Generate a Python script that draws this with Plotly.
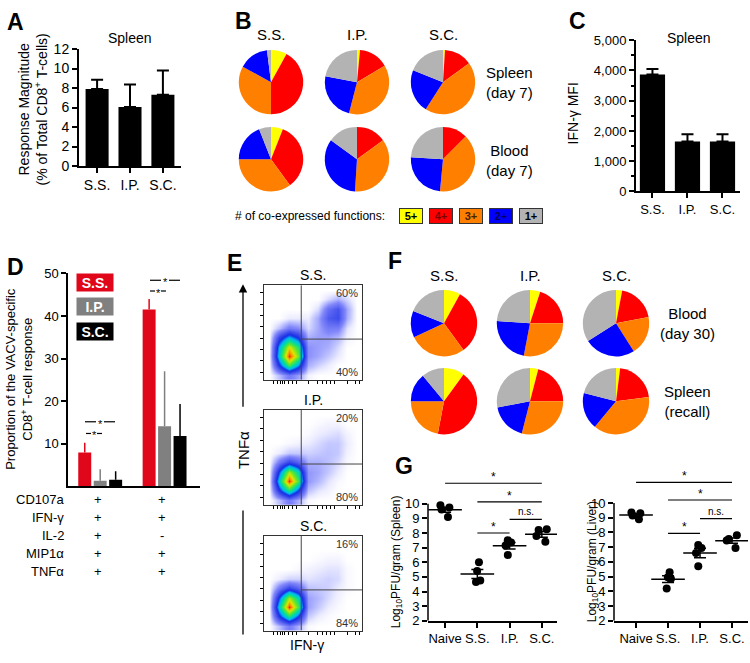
import numpy as np
import plotly.graph_objects as go

W, H = 750, 663
FONT = "Liberation Sans, Arial, sans-serif"

# ---------------- data ----------------
routes = ["S.S.", "I.P.", "S.C."]

# Panel A: response magnitude (% of CD8+ T cells)
A_mean = [7.9, 6.05, 7.3]
A_err = [0.95, 2.3, 2.5]

# Panel C: IFN-g MFI
C_mean = [3870, 1650, 1650]
C_err = [180, 240, 240]

# Panel D: proportions
D_groups = ["g1", "g2"]
D_SS = [7.9, 41.5]
D_SS_err = [2.3, 2.5]
D_IP = [1.3, 14.1]
D_IP_err = [2.7, 12.9]
D_SC = [1.5, 11.8]
D_SC_err = [2.0, 7.5]
D_markers = ["CD107a", "IFN-γ", "IL-2", "MIP1α", "TNFα"]
D_g1_signs = ["+", "+", "+", "+", "+"]
D_g2_signs = ["+", "+", "-", "+", "+"]

# Pies: fractions of 5+, 4+, 3+, 2+, 1+
func_labels = ["5+", "4+", "3+", "2+", "1+"]
B_spleen_SS = [8, 42, 33, 15, 2]
B_spleen_IP = [1.5, 15, 37.5, 24, 22]
B_spleen_SC = [1, 14, 44, 22, 19]
B_blood_SS = [6, 34, 35, 19, 6]
B_blood_IP = [0, 15, 36, 34, 15]
B_blood_SC = [0, 12.5, 39, 24.5, 24]
F_blood_SS = [8, 32, 28, 13, 19]
F_blood_IP = [5, 20, 28, 23, 24]
F_blood_SC = [3, 19, 19, 25, 34]
F_spleen_SS = [10, 43, 22, 14, 11]
F_spleen_IP = [4, 21, 29, 18, 28]
F_spleen_SC = [2, 21, 38, 18, 21]

# Panel E: flow density grids (rows bottom->top, cols left->right)
flow_bins = [0.05, 0.15, 0.25, 0.35, 0.45, 0.55, 0.65, 0.75, 0.85, 0.95]
E_SS = [
    [0, 0.8, 1.8, 1.2, 0.2, 0, 0, 0, 0, 0],
    [0, 3.8, 7, 4.8, 1, 0.6, 0.3, 0, 0, 0],
    [0, 5.5, 10, 7.5, 1.4, 1.1, 0.7, 0.3, 0, 0],
    [0, 5, 8.5, 6.5, 1.4, 1.2, 1, 0.5, 0, 0],
    [0, 3.2, 5, 3.8, 1, 1.2, 1.2, 0.9, 0.2, 0],
    [0, 0.8, 1.8, 1.5, 0.5, 1.1, 1.8, 1.7, 0.4, 0],
    [0, 0, 0.3, 0.3, 0.3, 1.1, 2.6, 3, 1, 0],
    [0, 0, 0, 0, 0, 0.5, 2.1, 2.8, 1.1, 0],
    [0, 0, 0, 0, 0, 0, 0.5, 1, 0.5, 0],
    [0, 0, 0, 0, 0, 0, 0, 0, 0, 0],
]
E_IP = [
    [0, 0.8, 1.8, 1, 0.1, 0, 0, 0, 0, 0],
    [0, 3.8, 6.5, 4.2, 0.8, 0.4, 0.2, 0, 0, 0],
    [0, 5.5, 10, 7, 1.3, 0.9, 0.4, 0.1, 0, 0],
    [0, 4.2, 8, 5.8, 1.3, 1.1, 0.7, 0.3, 0, 0],
    [0, 1.8, 3.2, 2.4, 1, 1, 0.8, 0.5, 0.1, 0],
    [0, 0.3, 0.7, 0.7, 0.6, 0.7, 0.8, 0.7, 0.2, 0],
    [0, 0, 0.1, 0.2, 0.3, 0.5, 0.7, 0.7, 0.3, 0],
    [0, 0, 0, 0, 0.1, 0.3, 0.4, 0.5, 0.2, 0],
    [0, 0, 0, 0, 0, 0.1, 0.2, 0.2, 0, 0],
    [0, 0, 0, 0, 0, 0, 0, 0, 0, 0],
]
E_SC = [
    [0, 0.8, 1.8, 1, 0.1, 0, 0, 0, 0, 0],
    [0, 3.8, 6.5, 4.2, 0.7, 0.3, 0.1, 0, 0, 0],
    [0, 5.5, 10, 7, 1.2, 0.7, 0.3, 0.1, 0, 0],
    [0, 4.2, 8, 5.8, 1.2, 0.9, 0.5, 0.2, 0, 0],
    [0, 1.8, 3.2, 2.4, 0.8, 0.7, 0.6, 0.3, 0.1, 0],
    [0, 0.3, 0.6, 0.6, 0.4, 0.5, 0.6, 0.5, 0.1, 0],
    [0, 0, 0, 0.1, 0.2, 0.3, 0.4, 0.4, 0.1, 0],
    [0, 0, 0, 0, 0, 0.1, 0.2, 0.2, 0, 0],
    [0, 0, 0, 0, 0, 0, 0, 0, 0, 0],
    [0, 0, 0, 0, 0, 0, 0, 0, 0, 0],
]
E_pct_top = ["60%", "20%", "16%"]
E_pct_bot = ["40%", "80%", "84%"]

# Panel G: log10 PFU/gram
G_groups = ["Naive", "S.S.", "I.P.", "S.C."]
G_spleen = {
    "Naive": [9.9, 9.75, 9.6, 9.1],
    "S.S.": [6.0, 5.4, 4.75, 4.65],
    "I.P.": [7.5, 7.35, 7.15, 6.5],
    "S.C.": [8.25, 8.2, 7.8, 7.4],
}
G_liver = {
    "Naive": [9.35, 9.3, 9.15, 8.9],
    "S.S.": [5.3, 4.95, 4.85, 4.2],
    "I.P.": [7.15, 6.95, 6.6, 5.7],
    "S.C.": [7.8, 7.55, 7.45, 6.95],
}
G_spleen_sig = [("Naive", "S.C.", 11.4, "*"), ("S.S.", "S.C.", 10.13, "*"),
                ("I.P.", "S.C.", 8.93, "n.s."), ("S.S.", "I.P.", 8.0, "*")]
G_liver_sig = [("Naive", "S.C.", 11.4, "*"), ("S.S.", "S.C.", 10.2, "*"),
               ("I.P.", "S.C.", 8.93, "n.s."), ("S.S.", "I.P.", 7.93, "*")]

# ---------------- styling helpers ----------------
pie_colors = ["#ffff00", "#ff0000", "#ff8000", "#0000ff", "#b3b3b3"]
D_colors = {"S.S.": "#e0071b", "I.P.": "#808080", "S.C.": "#000000"}


def dom_x(x0, x1):
    return [x0 / W, x1 / W]


def dom_y(top, bottom):
    return [1 - bottom / H, 1 - top / H]


anns = []
shapes = []


def text(x, y, s, size=14, bold=False, color="black", xanchor="center",
         yanchor="middle", angle=0, **kw):
    if bold:
        s = f"<b>{s}</b>"
    anns.append(dict(x=x / W, y=1 - y / H, xref="paper", yref="paper", text=s,
                     showarrow=False, font=dict(family=FONT, size=size, color=color),
                     xanchor=xanchor, yanchor=yanchor, textangle=angle, **kw))


fig = go.Figure()
layout = {}

base_ax = dict(showgrid=False, zeroline=False, showline=True, linecolor="black",
               tickcolor="black", tickfont=dict(family=FONT, size=13, color="black"))

# ---------------- Panel A ----------------
fig.add_trace(go.Bar(x=routes, y=A_mean, width=0.7, marker=dict(color="black", line=dict(width=0)),
                     error_y=dict(type="data", symmetric=False, array=A_err, arrayminus=[0] * 3,
                                  color="black", thickness=2, width=6),
                     xaxis="x", yaxis="y", showlegend=False))
layout["xaxis"] = dict(base_ax, domain=dom_x(79, 181), anchor="y", range=[-0.55, 2.55],
                       linewidth=2, ticks="outside", ticklen=5, tickwidth=2,
                       tickfont=dict(family=FONT, size=14, color="black"))
layout["yaxis"] = dict(base_ax, domain=dom_y(42, 162), anchor="x", range=[0, 12], dtick=2,
                       linewidth=2, ticks="outside", ticklen=5, tickwidth=2,
                       tickfont=dict(family=FONT, size=14, color="black"))
text(5, 14, "A", size=23, bold=True, xanchor="left")
text(130, 31, "Spleen", size=14)
text(33, 104, "Response Magnitude<br>(% of Total CD8<sup>+</sup> T-cells)", size=14, angle=-90)

# ---------------- Panel C ----------------
fig.add_trace(go.Bar(x=routes, y=C_mean, width=0.72, marker=dict(color="black", line=dict(width=0)),
                     error_y=dict(type="data", symmetric=False, array=C_err, arrayminus=[0] * 3,
                                  color="black", thickness=2, width=6),
                     xaxis="x2", yaxis="y2", showlegend=False))
layout["xaxis2"] = dict(base_ax, domain=dom_x(636, 740), anchor="y2", range=[-0.47, 2.5],
                        linewidth=2, ticks="outside", ticklen=5, tickwidth=2)
layout["yaxis2"] = dict(base_ax, domain=dom_y(33, 188), anchor="x2", range=[0, 5000], dtick=1000,
                        tickformat=",", linewidth=2, ticks="outside", ticklen=5, tickwidth=2,
                        minor=dict(dtick=500, ticks="outside", ticklen=3, tickwidth=1.5, tickcolor="black"))
text(567, 13, "C", size=23, bold=True, xanchor="left")
text(689, 31, "Spleen", size=14)
text(573, 108, "IFN-γ MFI", size=14, angle=-90)

# ---------------- Panel D ----------------
for name, vals, errs in [("S.S.", D_SS, D_SS_err), ("I.P.", D_IP, D_IP_err), ("S.C.", D_SC, D_SC_err)]:
    fig.add_trace(go.Bar(x=D_groups, y=vals, name=name, marker=dict(color=D_colors[name], line=dict(width=0)),
                         error_y=dict(type="data", symmetric=False, array=errs, arrayminus=[0, 0],
                                      color=D_colors[name], thickness=1.5, width=0),
                         xaxis="x3", yaxis="y3", showlegend=False))
layout["xaxis3"] = dict(base_ax, domain=dom_x(68, 200), anchor="y3", range=[-0.5, 1.55],
                        linewidth=1.5, ticks="", showticklabels=False)
layout["yaxis3"] = dict(base_ax, domain=dom_y(272, 490), anchor="x3", range=[0, 50],
                        tickvals=[10, 20, 30, 40, 50], linewidth=1.5, ticks="outside", ticklen=5,
                        tickwidth=1.5)
text(5, 265, "D", size=23, bold=True, xanchor="left")
text(19, 380, "Proportion of the VACV-specific<br>CD8<sup>+</sup> T-cell response", size=13, angle=-90)
for i, (name, yc) in enumerate([("S.S.", 281), ("I.P.", 306), ("S.C.", 331)]):
    anns.append(dict(x=94.5 / W, y=1 - yc / H, xref="paper", yref="paper", text=f"<b>{name}</b>",
                     showarrow=False, font=dict(family=FONT, size=14, color="white"),
                     bgcolor=D_colors[name], width=36, height=17, borderpad=0,
                     xanchor="center", yanchor="middle"))
# significance marks
for (x0, x1, y) in [(85, 115, 424), (150, 180, 279)]:
    xm = (x0 + x1) / 2
    shapes.append(dict(type="line", xref="paper", yref="paper", x0=x0 / W, x1=(xm - 4) / W,
                       y0=1 - y / H, y1=1 - y / H, line=dict(color="black", width=1.2)))
    shapes.append(dict(type="line", xref="paper", yref="paper", x0=(xm + 4) / W, x1=x1 / W,
                       y0=1 - y / H, y1=1 - y / H, line=dict(color="black", width=1.2)))
    text(xm, y + 2, "*", size=11)
for (x0, y) in [(86, 436), (150, 290)]:
    shapes.append(dict(type="line", xref="paper", yref="paper", x0=x0 / W, x1=(x0 + 5) / W,
                       y0=1 - y / H, y1=1 - y / H, line=dict(color="black", width=1.2)))
    shapes.append(dict(type="line", xref="paper", yref="paper", x0=(x0 + 11) / W, x1=(x0 + 16) / W,
                       y0=1 - y / H, y1=1 - y / H, line=dict(color="black", width=1.2)))
    text(x0 + 8, y + 2, "*", size=11)
row_y = [504, 522, 541, 559, 577]
for lab, s1, s2, yy in zip(D_markers, D_g1_signs, D_g2_signs, row_y):
    text(66, yy, lab, size=13, xanchor="right")
    text(98, yy, s1, size=13)
    text(162, yy, s2, size=13)

# ---------------- Panel E ----------------
flow_cs = [[0, "rgb(255,255,255)"], [0.03, "rgb(236,236,255)"], [0.07, "rgb(196,200,255)"],
           [0.15, "rgb(130,135,250)"], [0.3, "rgb(60,75,235)"], [0.4, "rgb(25,45,230)"],
           [0.5, "rgb(0,185,240)"], [0.6, "rgb(0,220,160)"], [0.72, "rgb(90,230,50)"],
           [0.84, "rgb(220,230,0)"], [0.93, "rgb(255,140,0)"], [1, "rgb(240,40,0)"]]
E_boxes = [(284, 381), (412, 509), (541, 638)]
E_titles = ["S.S.", "I.P.", "S.C."]
for k, (z, (top, bot)) in enumerate(zip([E_SS, E_IP, E_SC], E_boxes)):
    xa, ya = f"x{4 + k}", f"y{4 + k}"
    fig.add_trace(go.Heatmap(x=flow_bins, y=flow_bins, z=z, zsmooth="best", colorscale=flow_cs,
                             zmin=0, zmax=10, showscale=False, xaxis=xa, yaxis=ya, hoverinfo="skip"))
    layout[f"xaxis{4 + k}"] = dict(base_ax, domain=dom_x(264, 362), anchor=ya, range=[0, 1],
                                   mirror=True, linewidth=1, linecolor="#333", ticks="outside",
                                   ticklen=3, tickwidth=1, showticklabels=False,
                                   tickvals=[0.1, 0.14, 0.17, 0.19, 0.21, 0.25, 0.29, 0.33, 0.45,
                                             0.55, 0.6, 0.64, 0.68, 0.72, 0.85, 0.93, 0.97])
    layout[f"yaxis{4 + k}"] = dict(base_ax, domain=dom_y(top, bot), anchor=xa, range=[0, 1],
                                   mirror=True, linewidth=1, linecolor="#333", ticks="outside",
                                   ticklen=3, tickwidth=1, showticklabels=False,
                                   tickvals=[0.08, 0.2, 0.32, 0.44, 0.56, 0.68, 0.8, 0.92])
    shapes.append(dict(type="line", xref=xa, yref=ya, x0=0.38, x1=0.38, y0=0, y1=1,
                       line=dict(color="#444", width=1)))
    shapes.append(dict(type="line", xref=xa, yref=ya, x0=0.38, x1=1, y0=0.43, y1=0.43,
                       line=dict(color="#444", width=1)))
    text(313, top - 10, E_titles[k], size=14)
    text(360, top + 8, E_pct_top[k], size=11, color="#333", xanchor="right")
    text(360, bot - 8, E_pct_bot[k], size=11, color="#333", xanchor="right")
text(225, 261, "E", size=23, bold=True, xanchor="left")
text(243, 453, "TNFα", size=15, angle=-90)
text(307, 653, "IFN-γ", size=14)
anns.append(dict(x=243 / W, y=1 - 283 / H, xref="paper", yref="paper", ax=0, ay=124,
                 axref="pixel", ayref="pixel", text="", showarrow=True, arrowhead=2,
                 arrowsize=1.3, arrowwidth=1.3, arrowcolor="black"))
shapes.append(dict(type="line", xref="paper", yref="paper", x0=243 / W, x1=243 / W,
                   y0=1 - 515 / H, y1=1 - 642 / H, line=dict(color="black", width=1.3)))

# ---------------- Pies (B and F) ----------------
def add_pie(vals, cx, cy, r=33):
    fig.add_trace(go.Pie(values=vals, labels=func_labels, sort=False, direction="clockwise",
                         rotation=0, marker=dict(colors=pie_colors, line=dict(width=0)),
                         textinfo="none", hoverinfo="label+percent", showlegend=False,
                         domain=dict(x=dom_x(cx - r, cx + r), y=dom_y(cy - r, cy + r))))


for vals, cx in zip([B_spleen_SS, B_spleen_IP, B_spleen_SC], [271, 357, 443]):
    add_pie(vals, cx, 76)
for vals, cx in zip([B_blood_SS, B_blood_IP, B_blood_SC], [271, 357, 443]):
    add_pie(vals, cx, 155)
for vals, cx in zip([F_blood_SS, F_blood_IP, F_blood_SC], [444, 530, 616]):
    add_pie(vals, cx, 323, 34)
for vals, cx in zip([F_spleen_SS, F_spleen_IP, F_spleen_SC], [444, 530, 616]):
    add_pie(vals, cx, 403, 34)

text(233, 13, "B", size=23, bold=True, xanchor="left")
for t, cx in zip(routes, [271, 357, 443]):
    text(cx, 27, t, size=15)
text(509, 76, "Spleen<br>(day 7)", size=15)
text(509, 156, "Blood<br>(day 7)", size=15)
text(387, 213, "# of co-expressed functions:", size=12, xanchor="right")
leg_text_col = ["#000000", "#7a0000", "#4a2000", "#00005a", "#000000"]
for i, (lab, col, tc) in enumerate(zip(func_labels, pie_colors, leg_text_col)):
    anns.append(dict(x=(411 + 30 * i) / W, y=1 - 213 / H, xref="paper", yref="paper",
                     text=f"<b>{lab}</b>", showarrow=False,
                     font=dict(family=FONT, size=11, color=tc), bgcolor=col,
                     bordercolor="#333", borderwidth=1, width=22, height=14, borderpad=0,
                     xanchor="center", yanchor="middle"))

text(386, 259, "F", size=23, bold=True, xanchor="left")
for t, cx in zip(routes, [444, 530, 616]):
    text(cx, 274, t, size=15)
text(687, 323, "Blood<br>(day 30)", size=15)
text(687, 403, "Spleen<br>(recall)", size=15)

# ---------------- Panel G ----------------
def add_g(data, sig, k, xdom, ydom, xr, ytitle, ytx):
    xa, ya = f"x{k}", f"y{k}"
    xs, ys = [], []
    for g in G_groups:
        xs += [g] * len(data[g])
        ys += data[g]
    fig.add_trace(go.Box(x=xs, y=ys, boxpoints="all", jitter=0.7, pointpos=0,
                         fillcolor="rgba(0,0,0,0)", line=dict(color="rgba(0,0,0,0)", width=0),
                         marker=dict(color="black", size=8), whiskerwidth=0,
                         xaxis=xa, yaxis=ya, showlegend=False, hoverinfo="y"))
    means = [float(np.mean(data[g])) for g in G_groups]
    sems = [float(np.std(data[g], ddof=1) / np.sqrt(len(data[g]))) for g in G_groups]
    fig.add_trace(go.Scatter(x=G_groups, y=means, mode="markers",
                             marker=dict(symbol="line-ew-open", size=24, color="black",
                                         line=dict(color="black", width=1.5)),
                             error_y=dict(type="data", array=sems, color="black", thickness=1.5, width=6),
                             xaxis=xa, yaxis=ya, showlegend=False))
    layout[f"xaxis{k}"] = dict(base_ax, domain=xdom, anchor=ya, range=xr, type="category",
                               categoryorder="array", categoryarray=G_groups, linewidth=1.5,
                               ticks="outside", ticklen=5, tickwidth=1.5)
    layout[f"yaxis{k}"] = dict(base_ax, domain=ydom, anchor=xa, range=[2, 11.8],
                               tickvals=list(range(2, 11)), showline=False, ticks="outside",
                               ticklen=5, tickwidth=1.5)
    shapes.append(dict(type="line", xref=f"{xa} domain", yref=ya, x0=0, x1=0, y0=2, y1=10,
                       line=dict(color="black", width=1.5)))
    for a, b, yv, lab in sig:
        i0, i1 = G_groups.index(a), G_groups.index(b)
        shapes.append(dict(type="line", xref=xa, yref=ya, x0=i0, x1=i1, y0=yv, y1=yv,
                           line=dict(color="black", width=1.2)))
        anns.append(dict(x=(i0 + i1) / 2, y=yv, xref=xa, yref=ya, text=lab, showarrow=False,
                         font=dict(family=FONT, size=12 if lab == "*" else 10, color="black"),
                         xanchor="center", yanchor="bottom", yshift=-3 if lab == "*" else 0))
    text(ytx, 568, ytitle, size=12, angle=-90)


add_g(G_spleen, G_spleen_sig, 7, dom_x(428, 557), dom_y(481, 628), [-0.53, 3.47],
      "Log<sub>10</sub>PFU/gram (Spleen)", 397)
add_g(G_liver, G_liver_sig, 8, dom_x(614, 748), dom_y(480, 628), [-0.69, 3.5],
      "Log<sub>10</sub>PFU/gram (Liver)", 593)
text(393, 469, "G", size=23, bold=True, xanchor="left")

fig.update_layout(width=W, height=H, margin=dict(l=0, r=0, t=0, b=0),
                  paper_bgcolor="white", plot_bgcolor="white",
                  font=dict(family=FONT, size=13, color="black"),
                  barmode="group", bargap=0.28, bargroupgap=0.16,
                  annotations=anns, shapes=shapes, **layout)

fig.write_html("out.html", config={"displayModeBar": False},
               post_script="document.body.style.margin='0';")
